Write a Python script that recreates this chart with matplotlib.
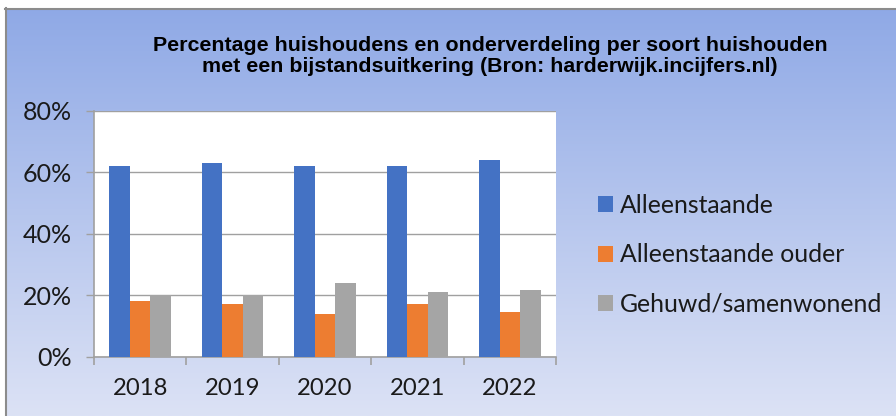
import numpy as np
import matplotlib
matplotlib.use("Agg")
import matplotlib.pyplot as plt
from matplotlib.lines import Line2D
from matplotlib.ticker import FixedLocator, PercentFormatter

# ---- data ----
years = ["2018", "2019", "2020", "2021", "2022"]
series_names = ["Alleenstaande", "Alleenstaande ouder", "Gehuwd/samenwonend"]
alleenstaande = [62, 63, 62, 62, 64]
alleenstaande_ouder = [18, 17, 14, 17, 14.5]
gehuwd = [20, 20, 24, 21, 21.6]
y_ticks = [0, 20, 40, 60, 80]
title = ("Percentage huishoudens en onderverdeling per soort huishouden\n"
         "met een bijstandsuitkering (Bron: harderwijk.incijfers.nl)")

colors = ["#4472C4", "#ED7D31", "#A5A5A5"]
W, H = 896, 416
fig = plt.figure(figsize=(W / 100, H / 100), dpi=100)
fig.patch.set_facecolor("white")

# background gradient
bg = fig.add_axes([5 / W, 0, 1 - 5 / W, (H - 8) / H])
top = np.array([143, 169, 230]) / 255
bot = np.array([220, 226, 245]) / 255
t = np.linspace(0, 1, 256)[:, None]
grad = (top[None, :] * (1 - t) + bot[None, :] * t)[:, None, :]
bg.imshow(grad, aspect="auto", extent=[0, 1, 0, 1])
bg.set_axis_off()

# border lines
fig.add_artist(Line2D([5.5 / W, 5.5 / W], [0, (H - 8) / H], color="#8C8C8C", lw=1.5,
                      transform=fig.transFigure))
fig.add_artist(Line2D([5 / W, 1], [(H - 8.5) / H, (H - 8.5) / H], color="#8C8C8C", lw=1.5,
                      transform=fig.transFigure))

# plot area
L, R, T, B = 94, 556, 110.7, 356.7
ax = fig.add_axes([L / W, (H - B) / H, (R - L) / W, (B - T) / H])
ax.set_facecolor("white")

x = np.arange(len(years))
bw = 1 / 4.5
for i, (vals, name) in enumerate(zip([alleenstaande, alleenstaande_ouder, gehuwd], series_names)):
    ax.bar(x + (i - 1) * bw, vals, width=bw, color=colors[i], label=name, zorder=3,
           edgecolor="none")

ax.set_xlim(-0.5, len(years) - 0.5)
ax.set_ylim(0, 80)
ax.set_yticks(y_ticks)
ax.yaxis.set_major_formatter(PercentFormatter(decimals=0))
ax.grid(axis="y", color="#A0A0A0", lw=1, zorder=0)
ax.set_xticks(x)
ax.set_xticklabels(years)
ax.xaxis.set_minor_locator(FixedLocator(np.arange(-0.5, len(years), 1.0)))

for s in ["top", "right"]:
    ax.spines[s].set_visible(False)
for s in ["left", "bottom"]:
    ax.spines[s].set_color("#A0A0A0")
    ax.spines[s].set_linewidth(1.2)

ax.tick_params(axis="y", length=5.8, width=1, color="#A0A0A0", pad=10, labelsize=18)
ax.tick_params(axis="x", which="major", length=0, pad=15, labelsize=17.2)
ax.tick_params(axis="x", which="minor", length=5.8, width=1.2, color="#A0A0A0")
for lab in ax.get_xticklabels() + ax.get_yticklabels():
    lab.set_fontfamily(["Lato", "DejaVu Sans"])
    lab.set_color("#1a1a1a")

leg = ax.legend(loc="center left", bbox_to_anchor=(598 / W, (H - 255) / H),
                bbox_transform=fig.transFigure, frameon=False,
                prop=dict(family=["Lato", "DejaVu Sans"], size=17.8),
                handlelength=0.6, handleheight=0.6, handletextpad=0.3,
                labelspacing=1.07, borderaxespad=0, borderpad=0)
for txt in leg.get_texts():
    txt.set_color("#1a1a1a")

fig.text(490 / W, (H - 56) / H, title, ha="center", va="center",
         family=["Liberation Sans", "DejaVu Sans"], weight="bold", size=15.4,
         linespacing=1.08, color="black")

fig.savefig("out.png", dpi=100)
